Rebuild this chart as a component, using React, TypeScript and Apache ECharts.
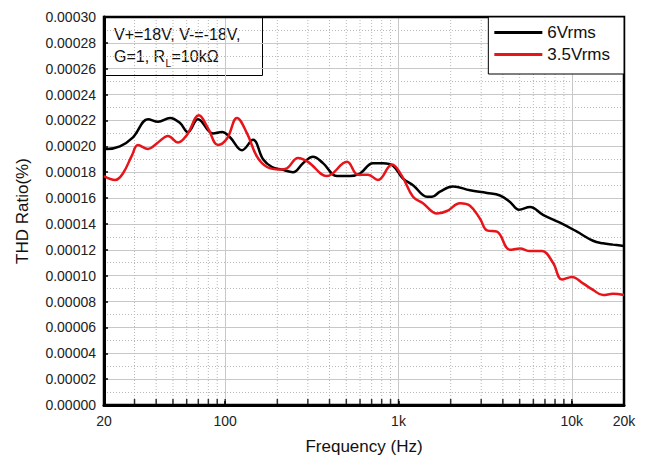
import React, { useEffect, useRef } from "react";
import * as echarts from "echarts";

// 6Vrms (black)
const freq6 = [20, 20.8, 24.7, 29.4, 35.9, 41.0, 48.1, 54.9, 61.0, 69.7, 85.1, 95.9, 106.6, 125.1, 144.8, 165.4, 186.3, 212.8, 246.3, 281.3, 321.1, 366.8, 441.9, 525.2, 599.8, 712.5, 813.9, 929.4, 1062, 1213, 1461, 1561, 1736, 2063, 2585, 3241, 3851, 4399, 4958, 5738, 6820, 8545, 10710, 13250, 15130, 17280, 20000];
const thd6 = [19.8e-5, 19.8e-5, 20.0e-5, 20.7e-5, 22.1e-5, 21.9e-5, 22.2e-5, 21.8e-5, 21.1e-5, 22.1e-5, 21.0e-5, 21.1e-5, 20.7e-5, 19.7e-5, 20.5e-5, 19.0e-5, 18.4e-5, 18.2e-5, 18.0e-5, 18.7e-5, 19.2e-5, 18.7e-5, 17.7e-5, 17.7e-5, 17.9e-5, 18.7e-5, 18.7e-5, 18.5e-5, 17.5e-5, 17.0e-5, 16.1e-5, 16.1e-5, 16.5e-5, 16.9e-5, 16.6e-5, 16.4e-5, 16.2e-5, 15.7e-5, 15.1e-5, 15.3e-5, 14.7e-5, 14.1e-5, 13.4e-5, 12.7e-5, 12.5e-5, 12.4e-5, 12.3e-5];

// 3.5Vrms (red)
const freq35 = [20, 23.2, 25.7, 29.0, 31.4, 35.9, 41.0, 46.8, 53.5, 60.3, 70.6, 79.6, 90.9, 102.5, 117.0, 133.7, 152.7, 174.4, 207.2, 227.4, 263.2, 300.6, 386.8, 504.7, 584.0, 667.1, 761.4, 917.1, 1048, 1213, 1385, 1668, 1905, 2264, 2585, 2953, 3241, 3701, 4399, 5024, 5738, 6729, 7786, 8773, 10024, 11601, 13250, 15130, 17280, 20000];
const thd35 = [17.7e-5, 17.4e-5, 17.9e-5, 19.3e-5, 20.1e-5, 19.8e-5, 20.3e-5, 20.8e-5, 20.3e-5, 20.9e-5, 22.4e-5, 21.4e-5, 20.1e-5, 20.6e-5, 22.2e-5, 21.0e-5, 19.2e-5, 18.4e-5, 18.2e-5, 18.3e-5, 19.1e-5, 18.8e-5, 17.7e-5, 18.8e-5, 17.8e-5, 17.8e-5, 17.4e-5, 18.6e-5, 17.7e-5, 16.1e-5, 15.6e-5, 14.8e-5, 15.0e-5, 15.6e-5, 15.4e-5, 14.4e-5, 13.5e-5, 13.4e-5, 12.0e-5, 12.1e-5, 11.9e-5, 11.9e-5, 11.0e-5, 9.7e-5, 9.9e-5, 9.4e-5, 8.9e-5, 8.5e-5, 8.6e-5, 8.5e-5];

const seriesNames = ["6Vrms", "3.5Vrms"];
const minorFreqs = [30, 40, 50, 60, 70, 80, 90, 200, 300, 400, 500, 600, 700, 800, 900, 2000, 3000, 4000, 5000, 6000, 7000, 8000, 9000];
const tickFreqs = [...minorFreqs, 100, 1000, 10000];
const yMin = 0;
const yMax = 0.0003;
const annotationLine1 = "V+=18V, V-=-18V,";
const annotationLine2a = "G=1, R";
const annotationSub = "L";
const annotationLine2b = "=10kΩ";

const FONT = "Liberation Sans, Arial, sans-serif";
const RED = "#e8141a";

export default function App() {
  const ref = useRef<HTMLDivElement>(null);
  useEffect(() => {
    if (!ref.current) return;
    const chart = echarts.init(ref.current, undefined, { renderer: "svg" });
    const minorGridData: any[] = [];
    minorFreqs.forEach((f) => {
      minorGridData.push([f, yMin], [f, yMax], "-");
    });
    chart.setOption({
      animation: false,
      backgroundColor: "#ffffff",
      textStyle: { fontFamily: FONT },
      grid: {
        left: 104,
        right: 24,
        top: 17,
        bottom: 56,
        show: true,
        borderColor: "#000",
        borderWidth: 2.5,
        backgroundColor: "transparent",
        z: 3,
      },
      legend: {
        data: seriesNames,
        orient: "vertical",
        right: 24,
        top: 17,
        icon: "rect",
        itemWidth: 48,
        itemHeight: 3,
        itemGap: 5,
        padding: [7, 14, 11, 6],
        borderColor: "#000",
        borderWidth: 1,
        backgroundColor: "#fff",
        textStyle: { fontSize: 17, lineHeight: 16, color: "#111", fontFamily: FONT },
      },
      xAxis: {
        type: "log",
        logBase: 10,
        min: 20,
        max: 20000,
        name: "Frequency (Hz)",
        nameLocation: "middle",
        nameGap: 33,
        nameTextStyle: { fontSize: 17, color: "#111", fontFamily: FONT },
        axisLine: { show: true, lineStyle: { color: "#000", width: 3 } },
        axisTick: { show: true, inside: true, length: 4, lineStyle: { color: "#000", width: 1.5 } },
        axisLabel: {
          fontSize: 14,
          color: "#222",
          margin: 9,
          fontFamily: FONT,
          formatter: (v: number) => {
            const r = Math.round(v);
            return r >= 1000 ? r / 1000 + "k" : String(r);
          },
        },
        splitLine: { show: true, lineStyle: { color: "#c8c8c8", width: 1 } },
      },
      yAxis: {
        type: "value",
        min: yMin,
        max: yMax,
        interval: 0.00002,
        name: "THD Ratio(%)",
        nameLocation: "middle",
        nameGap: 73,
        nameTextStyle: { fontSize: 17, color: "#111", fontFamily: FONT },
        axisLine: { show: true, lineStyle: { color: "#000", width: 3 } },
        axisTick: { show: true, inside: true, length: 4, lineStyle: { color: "#000", width: 1.5 } },
        axisLabel: {
          fontSize: 14,
          color: "#222",
          margin: 8,
          fontFamily: FONT,
          formatter: (v: number) => v.toFixed(5),
        },
        splitLine: { show: true, lineStyle: { color: "#c8c8c8", width: 1 } },
        minorTick: { show: false, splitNumber: 2 },
        minorSplitLine: { show: true, lineStyle: { color: "#b8b8b8", width: 1, type: [1, 2] } },
      },
      series: [
        {
          name: "_minorgrid",
          type: "line",
          data: minorGridData,
          symbol: "none",
          silent: true,
          connectNulls: false,
          z: 1,
          lineStyle: { color: "#b8b8b8", width: 1, type: [1, 2] },
        },
        {
          name: "_ticks",
          type: "scatter",
          silent: true,
          z: 4,
          symbol: "rect",
          symbolSize: [1.5, 6],
          symbolOffset: [0, -3],
          itemStyle: { color: "#000" },
          data: tickFreqs.map((f) => [f, 0]),
        },
        {
          name: seriesNames[0],
          type: "line",
          smooth: 0.4,
          symbol: "none",
          z: 5,
          lineStyle: { color: "#000", width: 2.5 },
          itemStyle: { color: "#000" },
          data: freq6.map((f, i) => [f, thd6[i]]),
        },
        {
          name: seriesNames[1],
          type: "line",
          smooth: 0.4,
          symbol: "none",
          z: 6,
          lineStyle: { color: RED, width: 2.5 },
          itemStyle: { color: RED },
          data: freq35.map((f, i) => [f, thd35[i]]),
        },
      ],
      graphic: [
        {
          type: "group",
          z: 100,
          children: [
            {
              type: "rect",
              shape: { x: 104.5, y: 17.5, width: 158, height: 58 },
              style: { fill: "#fff", stroke: "#000", lineWidth: 1 },
            },
            {
              type: "text",
              x: 114,
              y: 26,
              style: { text: annotationLine1, fontSize: 16, fill: "#111", fontFamily: FONT },
            },
            {
              type: "text",
              x: 114,
              y: 48,
              style: { text: annotationLine2a, fontSize: 16, fill: "#111", fontFamily: FONT },
            },
            {
              type: "text",
              x: 165.5,
              y: 58,
              style: { text: annotationSub, fontSize: 10, fill: "#111", fontFamily: FONT },
            },
            {
              type: "text",
              x: 171.5,
              y: 48,
              style: { text: annotationLine2b, fontSize: 16, fill: "#111", fontFamily: FONT },
            },
          ],
        },
      ],
    });
    return () => chart.dispose();
  }, []);
  return <div ref={ref} style={{ width: 648, height: 461, position: "absolute", left: 0, top: 0 }} />;
}
